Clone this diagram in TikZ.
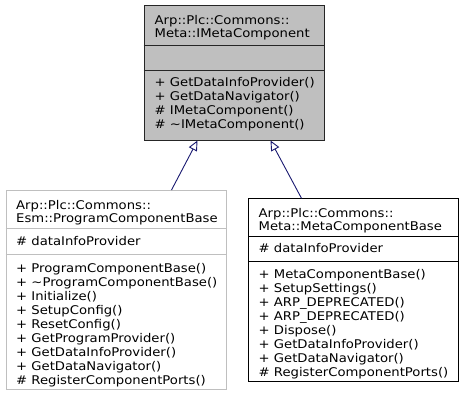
\documentclass[tikz,border=0pt]{standalone}
\usepackage{fontspec}
\setmainfont{DejaVu Sans}[FakeStretch=1.1]
\usetikzlibrary{arrows.meta}
\definecolor{boxgray}{HTML}{BFBFBF}
\definecolor{edgeblue}{HTML}{191970}
\begin{document}
\begin{tikzpicture}[x=1bp,y=-1bp,
  txt/.style={anchor=base west, inner sep=0pt, font=\fontsize{12bp}{14bp}\selectfont},
  classbox/.style={anchor=north west, inner sep=0pt, line width=1bp},
  sepline/.style={line width=1bp},
  inherit/.style={draw=edgeblue, line width=0.9bp, -{Triangle[open,length=10bp,width=9bp]}}]
\useasboundingbox (0,0) rectangle (464,404);
% top class
\node[classbox, draw=black!85, fill=boxgray, minimum width=180.5bp, minimum height=135bp] (top) at (143.5,5) {};
\draw[sepline, black!85] (143.5,45.5) -- (324,45.5);
\draw[sepline, black!85] (143.5,70.7) -- (324,70.7);
\node[txt] (t1) at (154.5,24.5) {Arp::Plc::Commons::};
\node[txt] (t2) at (154.5,37.5) {Meta::IMetaComponent};
\node[txt] (t3) at (154.5,86.5) {+ GetDataInfoProvider()};
\node[txt] (t4) at (154.5,100.5) {+ GetDataNavigator()};
\node[txt] (t5) at (154.5,114.5) {\# IMetaComponent()};
\node[txt] (t6) at (154.5,128.5) {\# \textasciitilde IMetaComponent()};
% left class
\node[classbox, draw=boxgray, fill=white, minimum width=220.5bp, minimum height=199bp] (left) at (5.5,190) {};
\draw[sepline, boxgray] (5.5,228.3) -- (226,228.3);
\draw[sepline, boxgray] (5.5,254.3) -- (226,254.3);
\node[txt] (l1) at (16,209) {Arp::Plc::Commons::};
\node[txt] (l2) at (16,222) {Esm::ProgramComponentBase};
\node[txt] (l3) at (16,245) {\# dataInfoProvider};
\node[txt] (l4) at (16,272.5) {+ ProgramComponentBase()};
\node[txt] (l5) at (16,286.5) {+ \textasciitilde ProgramComponentBase()};
\node[txt] (l6) at (16,300.5) {+ Initialize()};
\node[txt] (l7) at (16,314.5) {+ SetupConfig()};
\node[txt] (l8) at (16,328.5) {+ ResetConfig()};
\node[txt] (l9) at (16,342.5) {+ GetProgramProvider()};
\node[txt] (l10) at (16,356.5) {+ GetDataInfoProvider()};
\node[txt] (l11) at (16,370.5) {+ GetDataNavigator()};
\node[txt] (l12) at (16,384.5) {\# RegisterComponentPorts()};
% right class
\node[classbox, draw=black, fill=white, minimum width=210bp, minimum height=182.5bp] (right) at (248.3,198.3) {};
\draw[sepline] (248.3,236.7) -- (458.3,236.7);
\draw[sepline] (248.3,261.7) -- (458.3,261.7);
\node[txt] (r1) at (258.5,217) {Arp::Plc::Commons::};
\node[txt] (r2) at (258.5,230) {Meta::MetaComponentBase};
\node[txt] (r3) at (258.5,252.5) {\# dataInfoProvider};
\node[txt] (r4) at (258.5,278.5) {+ MetaComponentBase()};
\node[txt] (r5) at (258.5,292.5) {+ SetupSettings()};
\node[txt] (r6) at (258.5,306.5) {+ ARP\_DEPRECATED()};
\node[txt] (r7) at (258.5,320.5) {+ ARP\_DEPRECATED()};
\node[txt] (r8) at (258.5,334.5) {+ Dispose()};
\node[txt] (r9) at (258.5,348.5) {+ GetDataInfoProvider()};
\node[txt] (r10) at (258.5,362.5) {+ GetDataNavigator()};
\node[txt] (r11) at (258.5,376.5) {\# RegisterComponentPorts()};
% connectors
\coordinate (lfoot) at (171.5,190);
\coordinate (ltip) at (197.5,140.5);
\coordinate (rfoot) at (301.5,198.3);
\coordinate (rtip) at (270.5,140.5);
\draw[inherit] (lfoot) -- (ltip);
\draw[inherit] (rfoot) -- (rtip);
\end{tikzpicture}
\end{document}
